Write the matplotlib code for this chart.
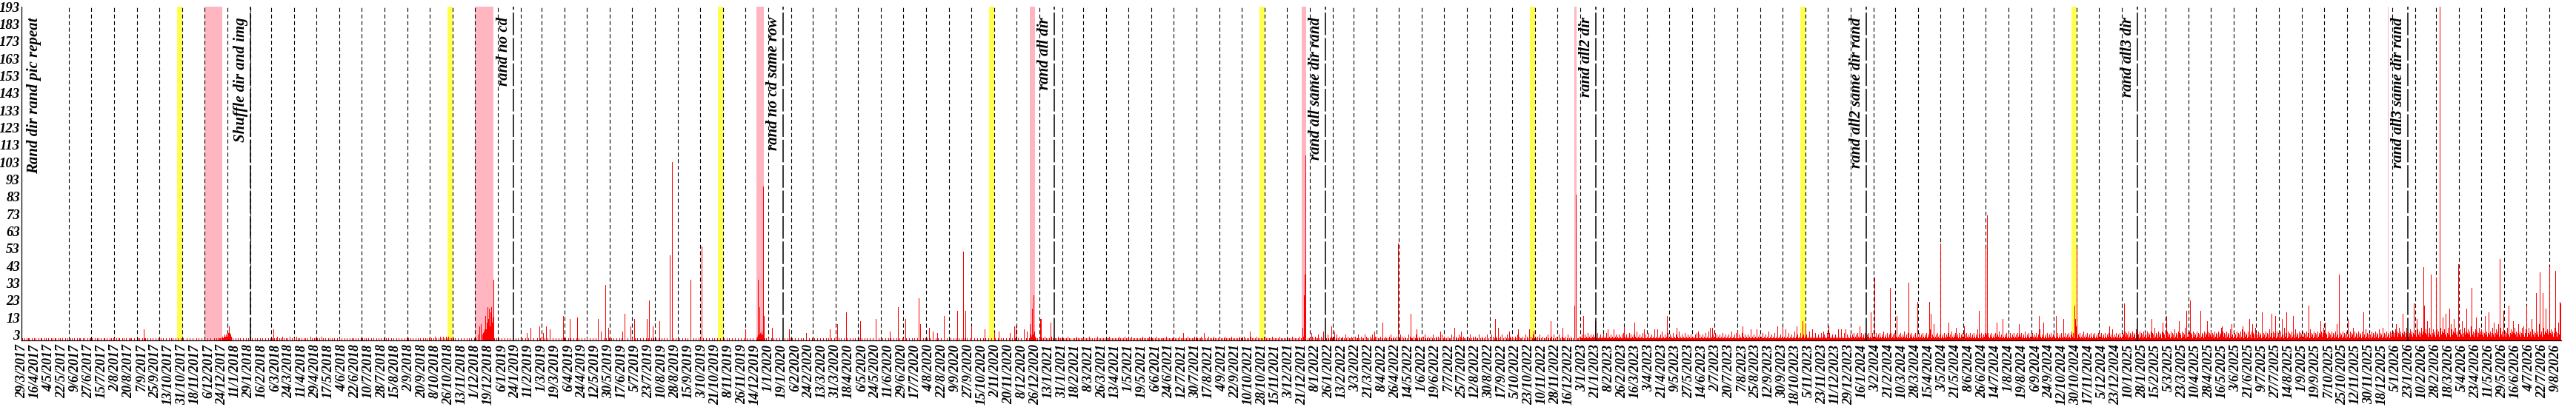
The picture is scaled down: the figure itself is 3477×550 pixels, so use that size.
import numpy as np
import pandas as pd
import matplotlib
matplotlib.use('Agg')
import matplotlib.pyplot as plt
import matplotlib.dates as mdates

# Daily counts, one string per calendar month, one digit per day
counts_2017 = ["010",
               "0100101100010010100010011000101", "1001000101001100010100100010010",
               "0010100100010011000101000100110", "0100010010100100011001000101001",
               "1001001100010100100010110001000", "0101000100110010001001000100101",
               "0010010001000100101000100100010", "0100001000100010000100100010001",
               "0000100010000100101011012123232"]
counts_2018 = ["3454320100010010010001000100100", "0010001001000100100010001001000",
               "0100100120010102010010100200100", "1002010100100101001000201001010",
               "0100100201001000101001001000100", "1001000100100010010100100100010",
               "0100101001000100100010010010001", "0010010001001000100100010001001",
               "0100100100010010010001001010010", "1010010201001020102010210201010",
               "0101000100010001000100100100010", "0100308090345606000080000010010"]
counts_2019 = ["0100010001000100100010001001000", "0010001000100100010000100010000",
               "1000100010010001000100010001001", "0100010010001000100100010001000",
               "1000100010001001000100010010001", "0010010001000100100010001000100",
               "1000100100010001000100100010010", "0100010001001000100010000100100",
               "0010001000100100010001001000100", "1000100010001000100100010001000",
               "0100010010001000100010001000100", "0010001000100001213243534210100"]
counts_2020 = ["1000100100010001000100100010001", "0100010001000100100010001000100",
               "0010001000100010001001000100010", "1000100100010001000100010010001",
               "0100010001001000100010001000100", "0010001000100100010001000100010",
               "1000100010001001000100010001001", "0100010001000100100010001000100",
               "0010001001000100010001001000100", "1000100010001000100100010001000",
               "0100010001001000100010001000100", "0010001000100100012324345210100"]
counts_2021 = ["1011010201010101201001010210101", "0101010201010010101201010101020",
               "1010101020101001010201010101010", "0101201010101010120101010201010",
               "1010201010101010101201010101201", "0101010201010101101020101010110",
               "1010101020101101010201010101201", "0101012010101010201010120101010",
               "1010101201010101201010101012010", "0102010101012010101020101010102",
               "1010101010201010101020101010101", "0101010201010101020103254300101"]
counts_2022 = ["1012010210130102011020103101201", "0210130102011201031020110210130",
               "1020113010201103021010201301020", "2011020130102101020310120102011",
               "0130201021010302011020130102101", "1020310120102013010210201103010",
               "2101020110302010210130201021010", "0201301021020110301021010203010",
               "1030201021011020301020130102101", "2010210302011020103021010201301",
               "0102013010201102031010201301020", "1030102011020130102101030201102"]
counts_2023 = ["2131213121412131231213141213121", "3121413121312141231213121314121",
               "1213121413121312151213121412131", "2141213121312141213151213121412",
               "1312141213121512131214121312131", "2121314121312131214121513121312",
               "1413121312141213121312151213141", "2131214121312131215121312141213",
               "1214121312151213121412131213121", "3121312141213121512131214121312",
               "1312151213121412131214121312141", "2141213121312151213121412131213"]
counts_2024 = ["2132412314213241231421324123142", "1324123142132512314213241231421",
               "3241231421325123142132412314213", "2412314213241231621324123142132",
               "4123142132412315213241231421324", "1231421324123142132612314213241",
               "2314213241231421325123142132412", "3142132412314213241231521324123",
               "1421324123162132412314213241231", "4213241231421324123142135241231",
               "2132412315213241231421324123142", "1324123142132412316213241231421"]
counts_2025 = ["2431524315243152431624315243152", "4315243152431724315243152431624",
               "3152431524316243152431524371524", "1524315243152431624315243152431",
               "5243152431524371524315243162431", "2431524315263152431524315243172",
               "4315243152431524316243152431524", "3152431724315243152431624315243",
               "1524315243162431524315243152471", "5243152431524315243162431524315",
               "2431524371524315243152431624315", "4315243152431624315243152431524"]
counts_2026 = ["3524635247352463524735246352473", "5246352473582463524735246352847",
               "4635247352463524735296352473524", "2463524735246352873524635247352",
               "6352473524635247352463592473524", "3524735246352473524635247382463",
               "5247352463524735296352473524635", "2463524735246352"]

# taller days (override the monthly strings)
spike_days = ["2017-09-10", "2018-01-03", "2018-03-04",
              "2018-12-15", "2018-12-17", "2018-12-18", "2018-12-19", "2018-12-20",
              "2018-12-22", "2018-12-23", "2018-12-24", "2018-12-25", "2018-12-26",
              "2019-02-09", "2019-02-14", "2019-02-26", "2019-03-03", "2019-03-07",
              "2019-03-12", "2019-03-30", "2019-04-08", "2019-04-18", "2019-05-16",
              "2019-05-20", "2019-05-26", "2019-05-30", "2019-06-18", "2019-06-21",
              "2019-06-29", "2019-07-04", "2019-07-21", "2019-07-24", "2019-07-29",
              "2019-08-07", "2019-08-21", "2019-08-24", "2019-09-18", "2019-10-03",
              "2019-12-01", "2019-12-18", "2019-12-20", "2019-12-25", "2019-12-26",
              "2020-01-06", "2020-01-29", "2020-02-21", "2020-03-24", "2020-04-03",
              "2020-04-15", "2020-05-04", "2020-05-25", "2020-06-13", "2020-06-24",
              "2020-07-04", "2020-07-22", "2020-07-24", "2020-08-05", "2020-08-10",
              "2020-08-16", "2020-08-25", "2020-09-12", "2020-09-20", "2020-09-23",
              "2020-10-01", "2020-10-19", "2020-11-01", "2020-11-07", "2020-11-22",
              "2020-11-28", "2020-11-30", "2020-12-11", "2020-12-15", "2020-12-19",
              "2020-12-22", "2020-12-24", "2021-01-02", "2021-01-03", "2021-01-16",
              "2021-07-14", "2021-08-11", "2021-10-12", "2021-12-22", "2021-12-24",
              "2021-12-25", "2021-12-26",
              "2022-01-03", "2022-01-19", "2022-01-30", "2022-02-03", "2022-03-29",
              "2022-04-09", "2022-04-30", "2022-05-17", "2022-05-25", "2022-06-26",
              "2022-07-15", "2022-07-24", "2022-09-08", "2022-09-12", "2022-09-27",
              "2022-10-09", "2022-10-24", "2022-10-30", "2022-11-22", "2022-12-08",
              "2022-12-24", "2022-12-26",
              "2023-01-05", "2023-01-21", "2023-02-07", "2023-02-15", "2023-03-01",
              "2023-03-15", "2023-03-28", "2023-04-11", "2023-04-15", "2023-04-28",
              "2023-05-11", "2023-06-09", "2023-06-25", "2023-06-28", "2023-08-01",
              "2023-08-08", "2023-08-19", "2023-08-27", "2023-09-24", "2023-10-01",
              "2023-10-05", "2023-10-20", "2023-10-28", "2023-11-01", "2023-11-10",
              "2023-11-25", "2023-12-02", "2023-12-15", "2023-12-19", "2023-12-25",
              "2024-01-13", "2024-01-28", "2024-02-02", "2024-02-23", "2024-03-03",
              "2024-03-19", "2024-03-31", "2024-04-16", "2024-04-18", "2024-04-22",
              "2024-05-01", "2024-05-12", "2024-05-22", "2024-06-02", "2024-06-22",
              "2024-07-01", "2024-07-03", "2024-07-16", "2024-07-24", "2024-08-15",
              "2024-09-11", "2024-09-17", "2024-10-04", "2024-10-14", "2024-10-29",
              "2024-10-30", "2024-10-31", "2024-11-01", "2024-12-15",
              "2025-01-04", "2025-02-10", "2025-02-25", "2025-03-02", "2025-03-19",
              "2025-03-29", "2025-04-03", "2025-04-17", "2025-04-26", "2025-05-16",
              "2025-05-29", "2025-06-13", "2025-06-22", "2025-06-26", "2025-07-09",
              "2025-07-22", "2025-07-27", "2025-08-05", "2025-08-11", "2025-08-20",
              "2025-09-10", "2025-09-26", "2025-10-02", "2025-10-18", "2025-10-21",
              "2025-11-02", "2025-11-23", "2025-12-19",
              "2026-01-06", "2026-01-15", "2026-01-30", "2026-02-03", "2026-02-12",
              "2026-02-13", "2026-02-17", "2026-02-22", "2026-03-01", "2026-03-06",
              "2026-03-10", "2026-03-14", "2026-03-19", "2026-03-25", "2026-03-31",
              "2026-04-05", "2026-04-11", "2026-04-18", "2026-04-24", "2026-05-06",
              "2026-05-11", "2026-05-18", "2026-05-26", "2026-05-31", "2026-06-07",
              "2026-06-13", "2026-06-20", "2026-07-01", "2026-07-08", "2026-07-14",
              "2026-07-19", "2026-07-23", "2026-07-27", "2026-08-01", "2026-08-09",
              "2026-08-13", "2026-08-15", "2026-08-16"]
spike_values = [6, 8, 6,
                14, 10, 19, 12, 18, 16, 19, 10, 13, 35,
                4, 7, 8, 4, 8, 6, 14, 12, 13, 12, 5, 32, 7, 5, 15, 8, 12, 12, 23, 8,
                11, 49, 103, 35, 54, 6, 35, 19, 89, 14,
                7, 6, 4, 6, 9, 16, 11, 12, 5, 19, 12, 24, 9, 7, 5, 4, 14, 17, 51, 17,
                8, 6, 4, 5, 4, 8, 8, 6, 5, 9, 18, 26, 12, 12, 10,
                4, 4, 5, 7, 26, 38, 107,
                4, 5, 8, 5, 5, 10, 56, 15, 6, 5, 7, 5, 12, 7, 5, 6, 6, 5, 11, 7, 20, 84,
                14, 11, 6, 6, 7, 10, 6, 6, 6, 14, 7, 5, 7, 7, 5, 8, 6, 6, 8, 7, 6, 8,
                11, 9, 6, 5, 8, 6, 6, 6,
                8, 16, 36, 30, 14, 33, 22, 22, 15, 9, 56, 10, 7, 8, 17, 53, 72, 10, 12,
                9, 14, 10, 14, 12, 20, 12, 8, 53, 8,
                21, 12, 10, 14, 11, 17, 23, 17, 11, 8, 9, 8, 12, 9, 16, 15, 14, 12, 16,
                14, 20, 11, 10, 9, 38, 12, 16, 7,
                9, 15, 21, 12, 42, 20, 11, 38, 36, 193, 13, 15, 18, 12, 44, 11, 18, 30,
                13, 14, 16, 10, 47, 17, 20, 11, 9, 20, 12, 27, 39, 27, 18, 42, 40, 10,
                22, 21]

notes = ["Rand dir rand pic repeat", "Shuffle dir and img", "rand no cd",
         "rand no cd same row", "rand all dir", "rand all same dir rand",
         "rand all2 dir", "rand all2 same dir rand", "rand all3 dir",
         "rand all3 same dir rand"]
note_dates = ["2017-03-29", "2018-02-01", "2019-01-22", "2020-01-21", "2021-01-21",
              "2022-01-22", "2023-01-22", "2024-01-22", "2025-01-22", "2026-01-22"]

halloween_years = [2017, 2018, 2019, 2020, 2021, 2022, 2023, 2024]
xmas_start = ["2017-12-01", "2018-12-01", "2019-12-16", "2020-12-19",
              "2021-12-21", "2022-12-24", "2025-12-26"]
xmas_end = ["2017-12-25", "2018-12-26", "2019-12-26", "2020-12-26",
            "2021-12-27", "2022-12-27", "2025-12-27"]

start = pd.Timestamp("2017-03-29")
end = pd.Timestamp("2026-08-16")

# build the daily series
month_strings = (counts_2017 + counts_2018 + counts_2019 + counts_2020 + counts_2021 +
                 counts_2022 + counts_2023 + counts_2024 + counts_2025 + counts_2026)
months = pd.date_range("2017-03-01", "2026-08-01", freq="MS")
vals = []
for m, s in zip(months, month_strings):
    first = max(m, start)
    last = min(m + pd.offsets.MonthEnd(0), end)
    n = (last - first).days + 1
    s = s.ljust(n, "0")[:n]
    vals.extend(int(c) for c in s)
days = pd.date_range(start, end, freq="D")
counts = pd.Series(vals, index=days)
for d, v in zip(spike_days, spike_values):
    counts[pd.Timestamp(d)] = v

plt.rcParams['font.family'] = ['Liberation Serif', 'DejaVu Serif']
font = dict(weight='bold', style='italic')

W, H = 3477, 550
fig = plt.figure(figsize=(W / 100, H / 100), dpi=100)
ax = fig.add_axes([29 / W, 90.5 / H, 3428 / W, 450.5 / H])

for y in halloween_years:
    ax.axvspan(pd.Timestamp(f"{y}-10-25"), pd.Timestamp(f"{y}-11-01"),
               color='#ffff50', lw=0, zorder=0)
for a, b in zip(xmas_start, xmas_end):
    ax.axvspan(pd.Timestamp(a), pd.Timestamp(b), color='#ffb6c1', lw=0, zorder=0)

for m in pd.date_range("2017-06-01", "2026-08-01", freq="MS"):
    ax.axvline(m, color='black', lw=0.8, linestyle=(0, (4.8, 3.2)), zorder=1)

ax.bar(counts.index, counts.values, width=1.0, color='red', linewidth=0, zorder=2)

for i, (txt, d) in enumerate(zip(notes, note_dates)):
    t = pd.Timestamp(d)
    ax.axvline(t, color='black', lw=1.1, linestyle=(0, (20, 2.5)), zorder=3)
    if i == 0:
        ax.text(t + pd.Timedelta(days=7), 187, txt, rotation=90, ha='left', va='top',
                fontsize=15, **font)
    else:
        ax.text(t - pd.Timedelta(days=3), 187, txt, rotation=90, ha='right', va='top',
                fontsize=15, **font)

ax.set_ylim(0, 193)
ax.set_yticks(np.arange(3, 194, 10))
ax.set_yticklabels([str(v) for v in np.arange(3, 194, 10)], fontsize=13.5, **font)

ticks = pd.date_range(start, end, freq="18D")
ax.set_xticks(ticks)
ax.set_xticklabels([f"{t.day}/{t.month}/{t.year}" for t in ticks], rotation=90,
                   fontsize=13, **font)
ax.set_xlim(mdates.date2num(start) - 0.5, mdates.date2num(end) + 0.5)

ax.tick_params(axis='both', length=0)
ax.tick_params(axis='x', pad=4)
ax.tick_params(axis='y', pad=1.5)
ax.spines['top'].set_visible(False)
ax.spines['right'].set_visible(False)
ax.spines['left'].set_linewidth(0.9)
ax.spines['bottom'].set_linewidth(0.9)

fig.savefig("out.png", dpi=100)
